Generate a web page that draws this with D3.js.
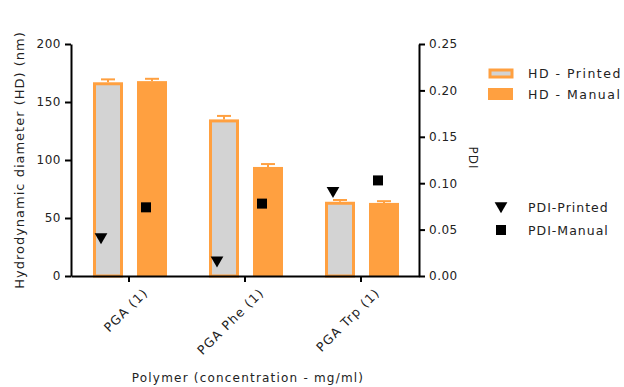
<!DOCTYPE html>
<meta charset="utf-8">
<script src="https://d3js.org/d3.v7.min.js"></script>
<style>
  body { margin: 0; background: #fff; }
  text { font-family: "DejaVu Sans", Verdana, sans-serif; fill: #222; }
</style>
<div id="chart"></div>
<script>
  // data
  const polymers = ["PGA (1)", "PGA Phe (1)", "PGA Trp (1)"];
  const hdPrinted = [167, 135, 64];
  const hdPrintedErr = [2.5, 3, 1.5];
  const hdManual = [168, 94, 63];
  const hdManualErr = [2, 2.5, 1.5];
  const pdiPrinted = [0.042, 0.017, 0.092];
  const pdiManual = [0.074, 0.078, 0.103];
  const hdTicks = [0, 50, 100, 150, 200];
  const pdiTicks = [0, 0.05, 0.10, 0.15, 0.20, 0.25];

  const orange = "#ffa040", grey = "#d3d3d3";
  const W = 624, H = 387;
  const margin = {top: 44, left: 71, right: 205, bottom: 111};
  const width = W - margin.left - margin.right,
        height = H - margin.top - margin.bottom;

  const svg = d3.select("#chart").append("svg")
      .attr("width", W).attr("height", H);
  const g = svg.append("g")
      .attr("transform", `translate(${margin.left},${margin.top})`);

  const x = d3.scaleBand().domain(polymers).range([0, width]).padding(0);
  const y = d3.scaleLinear().domain([0, 200]).range([height, 0]);
  const y2 = d3.scaleLinear().domain([0, 0.25]).range([height, 0]);

  const barW = 30, gap = 14;
  const xPrinted = d => x(d) + x.bandwidth() / 2 - gap / 2 - barW + 1;
  const xManual = d => x(d) + x.bandwidth() / 2 + gap / 2 + 1;

  // error caps
  function caps(vals, errs, xf) {
    g.selectAll(null).data(polymers).join("line")
      .attr("x1", d => xf(d) + barW / 2 - 7)
      .attr("x2", d => xf(d) + barW / 2 + 7)
      .attr("y1", (d, i) => y(vals[i] + errs[i]))
      .attr("y2", (d, i) => y(vals[i] + errs[i]))
      .attr("stroke", orange).attr("stroke-width", 2);
    g.selectAll(null).data(polymers).join("line")
      .attr("x1", d => xf(d) + barW / 2)
      .attr("x2", d => xf(d) + barW / 2)
      .attr("y1", (d, i) => y(vals[i] + errs[i]))
      .attr("y2", (d, i) => y(vals[i]))
      .attr("stroke", orange).attr("stroke-width", 2);
  }
  caps(hdPrinted, hdPrintedErr, xPrinted);
  caps(hdManual, hdManualErr, xManual);

  // bars
  g.selectAll(".printed").data(polymers).join("rect")
    .attr("class", "printed")
    .attr("x", d => xPrinted(d) + 1.5)
    .attr("width", barW - 3)
    .attr("y", (d, i) => y(hdPrinted[i]) + 1.5)
    .attr("height", (d, i) => height - y(hdPrinted[i]) - 1.5)
    .attr("fill", grey).attr("stroke", orange).attr("stroke-width", 3);

  g.selectAll(".manual").data(polymers).join("rect")
    .attr("class", "manual")
    .attr("x", d => xManual(d))
    .attr("width", barW)
    .attr("y", (d, i) => y(hdManual[i]))
    .attr("height", (d, i) => height - y(hdManual[i]))
    .attr("fill", orange);

  // PDI markers
  const tri = d3.symbol().type(d3.symbolTriangle).size(70);
  g.selectAll(".tri").data(polymers).join("path")
    .attr("class", "tri")
    .attr("d", tri)
    .attr("transform", (d, i) => `translate(${xPrinted(d) + barW / 2 - 7},${y2(pdiPrinted[i])}) rotate(180)`)
    .attr("fill", "#000");
  g.selectAll(".sq").data(polymers).join("rect")
    .attr("class", "sq")
    .attr("x", d => xManual(d) + barW / 2 - 5 - 6)
    .attr("y", (d, i) => y2(pdiManual[i]) - 5)
    .attr("width", 10).attr("height", 10)
    .attr("fill", "#000");

  // axes
  const styleAxis = sel => {
    sel.selectAll(".domain").attr("stroke", "#000").attr("stroke-width", 2);
    sel.selectAll(".tick line").attr("stroke", "#000").attr("stroke-width", 2);
    sel.selectAll("text").style("font-size", "12px").attr("fill", "#222")
      .style("letter-spacing", "0.5px");
  };
  g.append("g")
    .call(d3.axisLeft(y).tickValues(hdTicks).tickSize(6).tickSizeOuter(0).tickPadding(4))
    .call(styleAxis);
  g.append("g").attr("transform", `translate(${width},0)`)
    .call(d3.axisRight(y2).tickValues(pdiTicks).tickFormat(d3.format(".2f")).tickSize(6).tickSizeOuter(0).tickPadding(4))
    .call(styleAxis);
  const xa = g.append("g").attr("transform", `translate(0,${height})`)
    .call(d3.axisBottom(x).tickSize(6).tickSizeOuter(0).tickPadding(4))
    .call(styleAxis);
  xa.selectAll(".tick text")
    .style("font-size", "12.5px").style("letter-spacing", "1.2px")
    .attr("text-anchor", "end")
    .attr("dx", "0.3em").attr("dy", "0.9em")
    .attr("transform", "translate(2,5) rotate(-45)");

  // axis titles
  svg.append("text")
    .attr("transform", `translate(24,${margin.top + height / 2}) rotate(-90)`)
    .attr("text-anchor", "middle")
    .style("font-size", "13px").style("letter-spacing", "1px")
    .text("Hydrodynamic diameter (HD) (nm)");
  svg.append("text")
    .attr("transform", `translate(469,158) rotate(90)`)
    .attr("text-anchor", "middle")
    .style("font-size", "12px").style("letter-spacing", "1px")
    .text("PDI");
  svg.append("text")
    .attr("x", 248).attr("y", 382)
    .attr("text-anchor", "middle")
    .style("font-size", "12px").style("letter-spacing", "1.2px")
    .text("Polymer (concentration - mg/ml)");

  // legend
  const leg = svg.append("g");
  leg.append("rect").attr("x", 490).attr("y", 70).attr("width", 22).attr("height", 7)
    .attr("fill", grey).attr("stroke", orange).attr("stroke-width", 3);
  leg.append("text").attr("x", 528).attr("y", 78).style("font-size", "12.5px")
    .style("letter-spacing", "1.5px").text("HD - Printed");
  leg.append("rect").attr("x", 488).attr("y", 88).attr("width", 25).attr("height", 12)
    .attr("fill", orange);
  leg.append("text").attr("x", 528).attr("y", 99).style("font-size", "12.5px")
    .style("letter-spacing", "1.5px").text("HD - Manual");
  leg.append("path").attr("d", tri)
    .attr("transform", "translate(501,206) rotate(180)").attr("fill", "#000");
  leg.append("text").attr("x", 528).attr("y", 212).style("font-size", "12.5px")
    .style("letter-spacing", "1px").text("PDI-Printed");
  leg.append("rect").attr("x", 496).attr("y", 225).attr("width", 10).attr("height", 10)
    .attr("fill", "#000");
  leg.append("text").attr("x", 528).attr("y", 235).style("font-size", "12.5px")
    .style("letter-spacing", "1px").text("PDI-Manual");
</script>
